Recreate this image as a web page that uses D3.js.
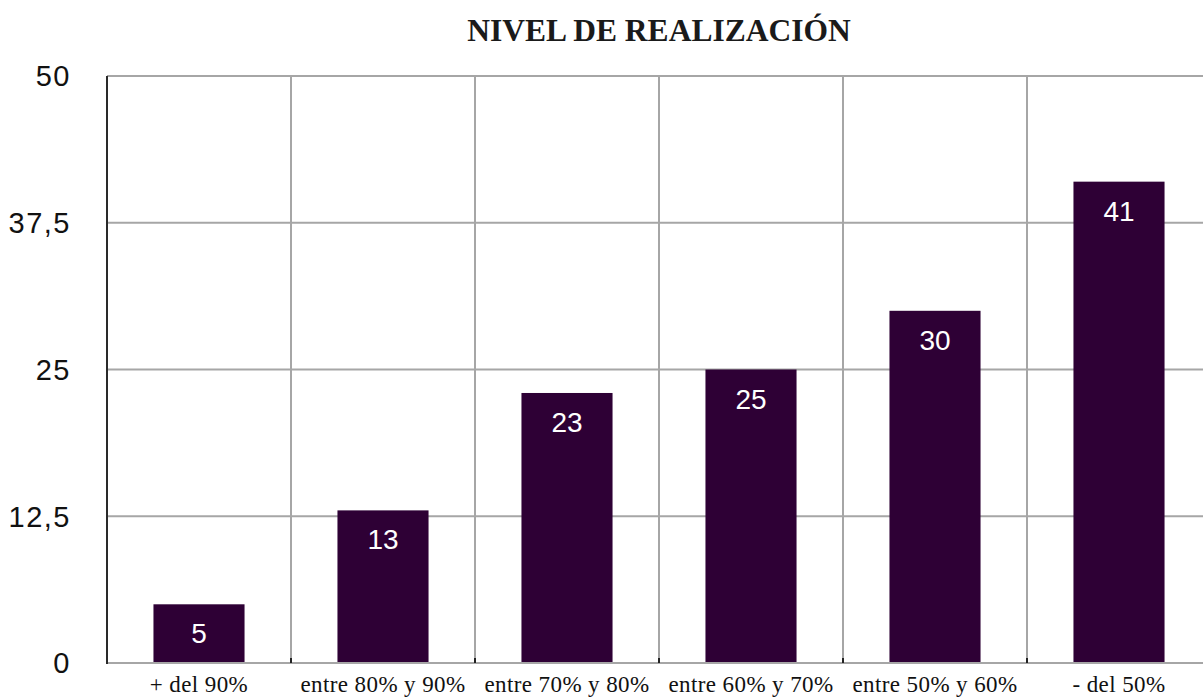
<!DOCTYPE html>
<html><head><meta charset="utf-8">
<script src="https://cdn.jsdelivr.net/npm/d3@7"></script>
<style>body{margin:0;background:#fff;overflow:hidden}</style>
</head><body>
<svg id="c" width="1203" height="697"></svg>
<script>
const categories = ["+ del 90%","entre 80% y 90%","entre 70% y 80%","entre 60% y 70%","entre 50% y 60%","- del 50%"];
const values = [5,13,23,25,30,41];
const yTicks = [0,12.5,25,37.5,50];
const title = "NIVEL DE REALIZACIÓN";

(function(){
const svg = d3.select("#c");
const mLeft = 107, mTop = 76, mBottom = 663, bandW = 184;
const x = d3.scaleBand().domain(categories).range([mLeft, mLeft + bandW*categories.length]).paddingInner(0.505).paddingOuter(0.2525);
const y = d3.scaleLinear().domain([0,50]).range([mBottom, mTop]);
const fmt = d => String(d).replace(".", ",");

svg.append("g").selectAll("line").data(yTicks.filter(d=>d>0)).join("line")
  .attr("x1", mLeft).attr("x2", 1203).attr("y1", d=>y(d)).attr("y2", d=>y(d))
  .attr("stroke", "#a6a6a6").attr("stroke-width", 2);
const bounds = categories.map((c,i)=>mLeft + bandW*(i+1));
svg.append("g").selectAll("line").data(bounds).join("line")
  .attr("x1", d=>d).attr("x2", d=>d).attr("y1", mTop).attr("y2", mBottom)
  .attr("stroke", "#a6a6a6").attr("stroke-width", 2);

svg.append("g").selectAll("rect").data(values).join("rect")
  .attr("x", (d,i)=>x(categories[i])).attr("width", x.bandwidth())
  .attr("y", d=>y(d)).attr("height", d=>mBottom - y(d))
  .attr("fill", "#2e0035");
svg.append("g").selectAll("text").data(values).join("text")
  .attr("x", (d,i)=>x(categories[i]) + x.bandwidth()/2)
  .attr("y", d=>y(d) + 39)
  .attr("text-anchor", "middle").attr("fill", "#fff")
  .attr("font-family", "Liberation Sans, Arial, sans-serif").attr("font-size", 28)
  .text(d=>d);

svg.append("line").attr("x1", mLeft).attr("x2", 1203).attr("y1", mBottom).attr("y2", mBottom)
  .attr("stroke", "#a6a6a6").attr("stroke-width", 2);
svg.append("g").selectAll("line").data(bounds).join("line")
  .attr("x1", d=>d).attr("x2", d=>d).attr("y1", mBottom-5).attr("y2", mBottom)
  .attr("stroke", "#222").attr("stroke-width", 2);
svg.append("line").attr("x1", mLeft).attr("x2", mLeft).attr("y1", mTop).attr("y2", mBottom+1)
  .attr("stroke", "#2a2a2a").attr("stroke-width", 2);

svg.append("g").selectAll("text").data(yTicks).join("text")
  .attr("x", 71).attr("y", d=>y(d)).attr("dy", "0.36em")
  .attr("text-anchor", "end").attr("fill", "#111")
  .attr("font-family", "Liberation Sans, Arial, sans-serif").attr("font-size", 29)
  .attr("letter-spacing", 1.5)
  .text(fmt);

svg.append("g").selectAll("text").data(categories).join("text")
  .attr("x", d=>x(d) + x.bandwidth()/2).attr("y", 692)
  .attr("text-anchor", "middle").attr("fill", "#111")
  .attr("font-family", "Liberation Serif, Times New Roman, serif").attr("font-size", 23)
  .attr("letter-spacing", 0.4)
  .text(d=>d);

svg.append("text").attr("x", 659).attr("y", 41).attr("text-anchor", "middle")
  .attr("font-family", "Liberation Serif, Times New Roman, serif").attr("font-weight", "bold")
  .attr("font-size", 31.5).attr("fill", "#1a1a1a").text(title);
})();
</script>
</body></html>
